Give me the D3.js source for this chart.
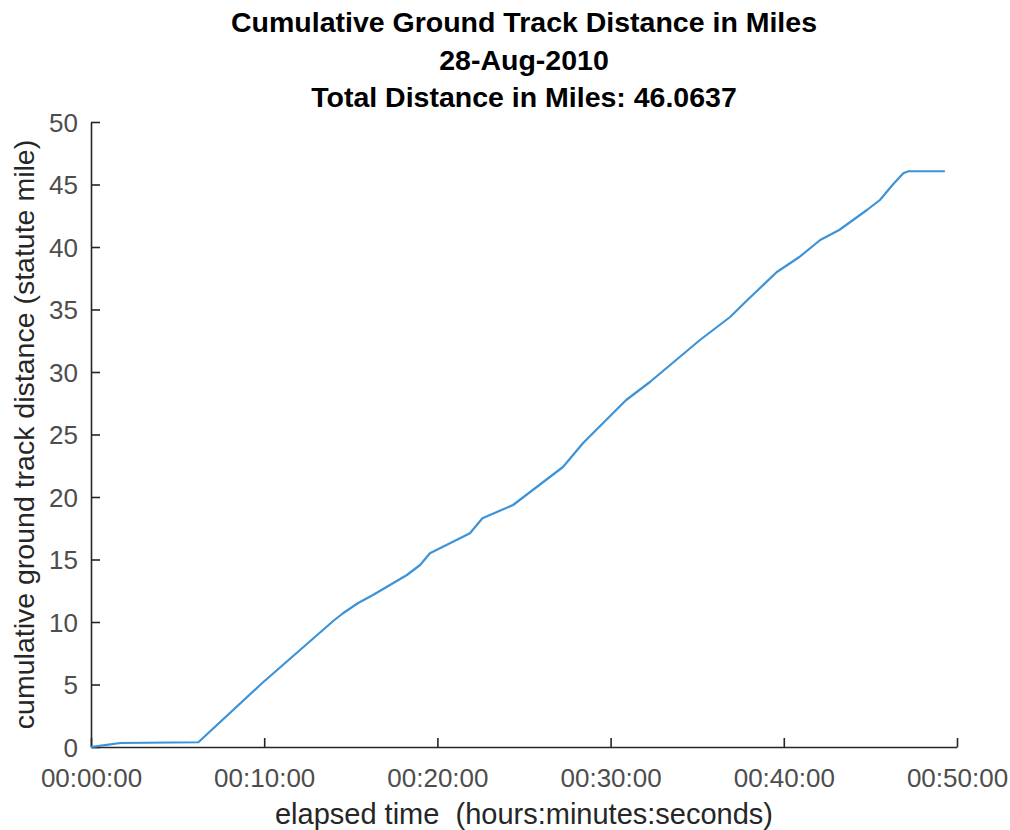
<!DOCTYPE html>
<meta charset="utf-8">
<style>
body { margin: 0; background: #fff; }
text { font-family: "Liberation Sans", Arial, sans-serif; }
</style>
<body>
<div class="chart"></div>
<script src="https://cdn.jsdelivr.net/npm/d3@7"></script>
<script>

// elapsed time in minutes, cumulative distance in miles
var minutes = [0, 0.8, 1.7, 6.2, 9.87, 12.07, 14.0, 14.55, 15.4, 16.28, 18.24, 19.0, 19.57,
  21.88, 22.6, 24.37, 27.25, 28.4, 30.9, 32.27, 35.16, 36.9, 37.9, 39.6, 40.9,
  42.1, 43.2, 44.8, 45.55, 46.3, 46.9, 47.2, 49.3];
var miles = [0, 0.15, 0.32, 0.38, 5.1, 7.76, 10.1, 10.7, 11.5, 12.16, 13.76, 14.56, 15.5,
  17.1, 18.3, 19.36, 22.4, 24.3, 27.76, 29.2, 32.56, 34.4, 35.76, 38.0, 39.2,
  40.56, 41.36, 42.96, 43.76, 45.0, 45.9, 46.06, 46.06];
var xTicks = [0, 10, 20, 30, 40, 50];
var yTicks = [0, 5, 10, 15, 20, 25, 30, 35, 40, 45, 50];
var titleLines = ["Cumulative Ground Track Distance in Miles", "28-Aug-2010", "Total Distance in Miles: 46.0637"];

var width = 1010, height = 830;
var margin = {left: 91, right: 53, top: 122, bottom: 83};

var svg = d3.select(".chart").append("svg")
    .attr("width", width)
    .attr("height", height);

var x = d3.scaleLinear().domain([0, 50]).range([margin.left, width - margin.right]);
var y = d3.scaleLinear().domain([0, 50]).range([height - margin.bottom, margin.top]);

function hms(m) {
  var s = Math.round(m * 60);
  var pad = function(n) { return (n < 10 ? "0" : "") + n; };
  return pad(Math.floor(s / 3600)) + ":" + pad(Math.floor(s / 60) % 60) + ":" + pad(s % 60);
}

var axisColor = "#262626";

// ticks point into the plot area, like the original
var xAxis = svg.append("g")
    .attr("transform", "translate(0," + y(0) + ")")
    .call(d3.axisBottom(x).tickValues(xTicks).tickFormat(hms).tickSizeInner(-9).tickSizeOuter(0).tickPadding(22));

var yAxis = svg.append("g")
    .attr("transform", "translate(" + x(0) + ",0)")
    .call(d3.axisLeft(y).tickValues(yTicks).tickSizeInner(-9).tickSizeOuter(0).tickPadding(13));

[xAxis, yAxis].forEach(function(g) {
  g.select(".domain").attr("stroke", axisColor).attr("stroke-width", 1.6);
  g.selectAll(".tick line").attr("stroke", axisColor).attr("stroke-width", 1.6);
  g.selectAll(".tick text")
      .attr("fill", "#4d4d4d")
      .style("font-size", "26px")
      .style("font-family", "'Liberation Sans', Arial, sans-serif");
});
yAxis.selectAll(".tick text").attr("dy", "0.36em");

var line = d3.line()
    .x(function(d, i) { return x(minutes[i]); })
    .y(function(d) { return y(d); });

svg.append("path")
    .datum(miles)
    .attr("fill", "none")
    .attr("stroke", "#3d93d8")
    .attr("stroke-width", 2.2)
    .attr("stroke-linejoin", "round")
    .attr("d", line);

svg.selectAll(".title")
    .data(titleLines)
    .enter().append("text")
    .attr("class", "title")
    .attr("x", (x(0) + x(50)) / 2)
    .attr("y", function(d, i) { return 32 + i * 37.5; })
    .attr("text-anchor", "middle")
    .style("font-size", "28.5px")
    .style("font-weight", "bold")
    .attr("fill", "#000")
    .text(function(d) { return d; });

svg.append("text")
    .attr("x", (x(0) + x(50)) / 2)
    .attr("y", 824)
    .attr("text-anchor", "middle")
    .style("font-size", "29px")
    .style("white-space", "pre")
    .attr("fill", "#262626")
    .text("elapsed time  (hours:minutes:seconds)");

svg.append("text")
    .attr("transform", "translate(34," + (y(0) + y(50)) / 2 + ") rotate(-90)")
    .attr("text-anchor", "middle")
    .style("font-size", "28.5px")
    .attr("fill", "#262626")
    .text("cumulative ground track distance (statute mile)");

</script>
</body>
